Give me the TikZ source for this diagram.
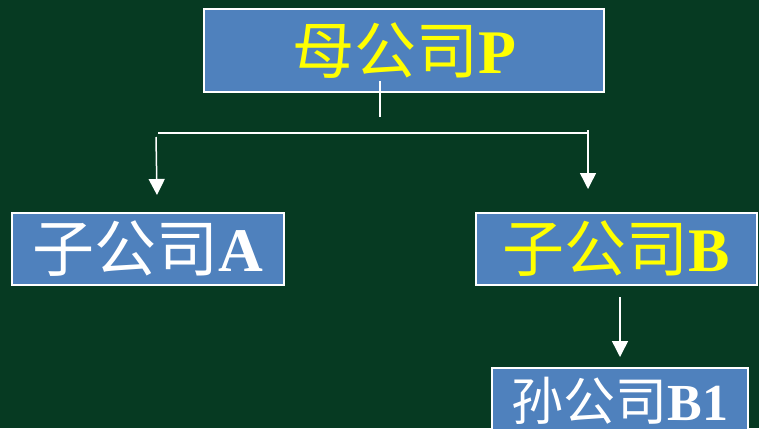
\documentclass[tikz,border=0pt]{standalone}
\usepackage{fontspec}
\setmainfont{Liberation Serif}
\newfontfamily\cjk{Noto Sans CJK SC}
\usetikzlibrary{arrows.meta}
\definecolor{boardgreen}{RGB}{6,58,34}
\definecolor{boxblue}{RGB}{79,129,189}
\definecolor{hiyellow}{RGB}{255,255,0}
\tikzset{
  company/.style={draw=white, line width=2pt, fill=boxblue, inner sep=0pt,
    font=\fontsize{62}{62}\selectfont},
  link/.style={draw=white, line width=1.5pt},
  arrowlink/.style={link, -{Triangle[width=16pt,length=16pt]}}
}
\begin{document}
\begin{tikzpicture}[x=1pt, y=-1pt]
    % Board background
    \fill[boardgreen] (0,0) rectangle (759,428);
    \useasboundingbox (0,0) rectangle (759,428);
    \clip (0,0) rectangle (759,428);
    % Companies
    \node[company, minimum width=400pt, minimum height=83pt] (parent) at (404,50.5)
        {\textcolor{hiyellow}{{\cjk 母公司}\textbf{P}}};
    \node[company, minimum width=272pt, minimum height=72pt] (subA) at (148,249)
        {\textcolor{white}{{\cjk 子公司}\textbf{A}}};
    \node[company, minimum width=281pt, minimum height=72pt] (subB) at (616.5,249)
        {\textcolor{hiyellow}{{\cjk 子公司}\textbf{B}}};
    \node[company, minimum width=256pt, minimum height=66pt,
          font=\fontsize{52}{52}\selectfont] (grandB) at (620,401)
        {\textcolor{white}{{\cjk 孙公司}\textbf{B1}}};
    % Branch points
    \coordinate (stemtop) at (380,81);
    \coordinate (stembot) at (380,117);
    \coordinate (barleft) at (158,133);
    \coordinate (barright) at (589,133);
    \coordinate (tailA) at (156,137);
    \coordinate (tailB) at (588,130);
    \coordinate (tailBB) at (620,297);
    % Connectors
    \draw[link] (stemtop) -- (stembot);
    \draw[link] (barleft) -- (barright);
    \draw[arrowlink] (tailA) -- (157,195);
    \draw[arrowlink] (tailB) -- (588,189);
    \draw[arrowlink] (tailBB) -- (620,357);
\end{tikzpicture}
\end{document}
